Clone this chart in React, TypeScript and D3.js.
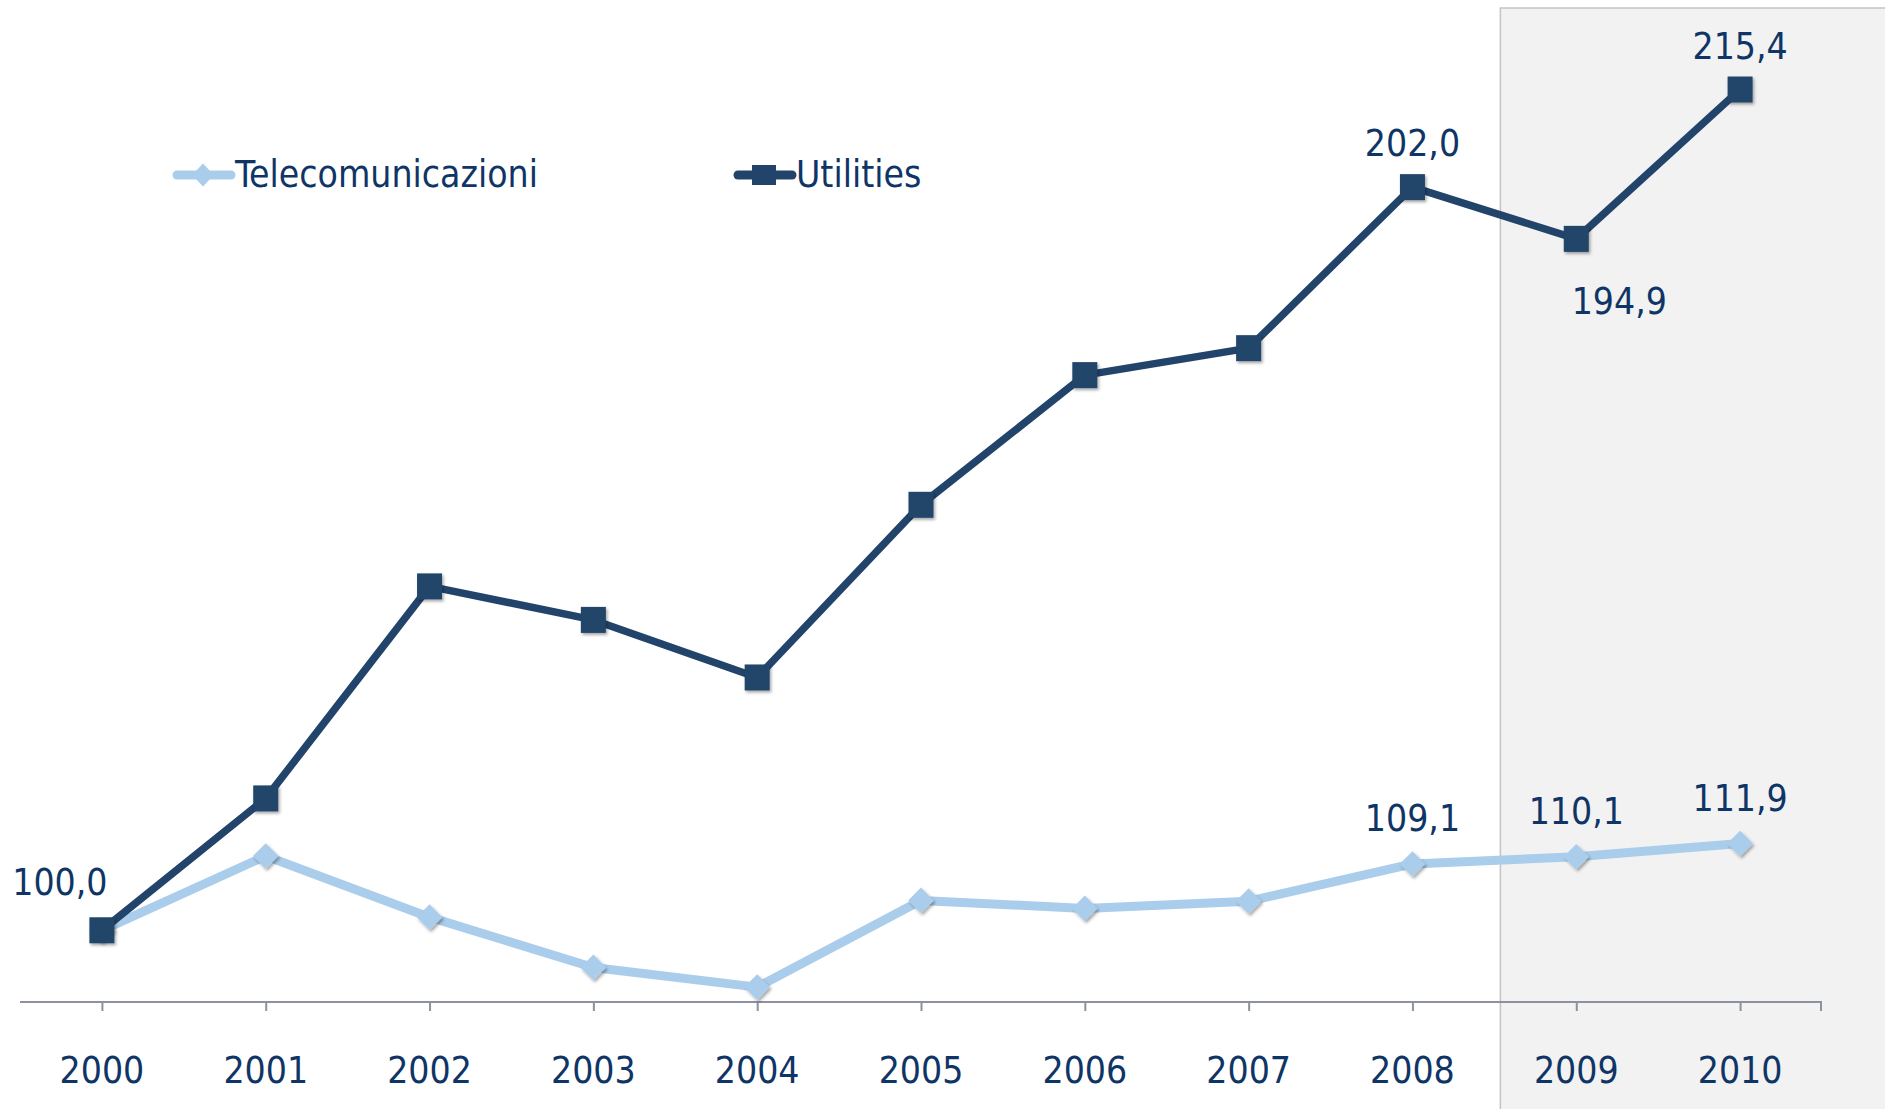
import { useRef, useEffect } from "react";
import * as d3 from "d3";

const years = ["2000", "2001", "2002", "2003", "2004", "2005", "2006", "2007", "2008", "2009", "2010"];
const telecomValues = [100.0, 110.2, 101.8, 94.9, 92.2, 104.1, 103.0, 104.0, 109.1, 110.1, 111.9];
const utilitiesValues = [100.0, 118.1, 147.2, 142.6, 134.7, 158.4, 176.2, 179.9, 202.0, 194.9, 215.4];
const seriesNames = ["Telecomunicazioni", "Utilities"];
const forecastYears = ["2009", "2010"];
const labelledTelecom = ["2008", "2009", "2010"];
const labelledUtilities = ["2000", "2008", "2009", "2010"];

const WIDTH = 1885;
const HEIGHT = 1109;
const FONT = "'Liberation Sans Narrow', 'DejaVu Sans Condensed', 'Arial Narrow', sans-serif";
const TEXT_COLOR = "#0f3566";
const UTIL_COLOR = "#22446b";
const TELE_COLOR = "#abcdec";
const AXIS_COLOR = "#8d91a1";

const fmt = (v: number) => d3.format(".1f")(v).replace(".", ",");

const App = () => {
  const svgRef = useRef<SVGSVGElement>(null);

  useEffect(() => {
    const svg = d3.select(svgRef.current);
    svg.selectAll("*").remove();

    const defs = svg.append("defs");
    defs
      .append("filter")
      .attr("id", "shadow")
      .attr("x", "-50%")
      .attr("y", "-50%")
      .attr("width", "200%")
      .attr("height", "200%")
      .append("feDropShadow")
      .attr("dx", 1.5)
      .attr("dy", 2)
      .attr("stdDeviation", 1.5)
      .attr("flood-color", "#000")
      .attr("flood-opacity", 0.35);

    const xScale = d3.scaleBand().domain(years).range([20, 1822]).padding(0);
    const cx = (y: string) => (xScale(y) as number) + xScale.bandwidth() / 2;
    const yScale = d3.scaleLinear().domain([80, 220]).range([1076, 56]);
    const axisY = 1002;

    // shaded forecast area
    const shadeX = cx(forecastYears[0]) - xScale.bandwidth() / 2 + 6;
    svg
      .append("rect")
      .attr("x", shadeX)
      .attr("y", 8)
      .attr("width", WIDTH - shadeX + 10)
      .attr("height", HEIGHT)
      .attr("fill", "#f2f2f2")
      .attr("stroke", "#c4c4c4")
      .attr("stroke-width", 1.5);

    // x axis
    const xAxis = svg
      .append("g")
      .attr("transform", `translate(0,${axisY})`)
      .call(
        d3
          .axisBottom(d3.scalePoint().domain(years).range([cx(years[0]), cx(years[years.length - 1])]))
          .tickSize(9)
          .tickSizeOuter(0)
          .tickFormat(() => "")
      );
    xAxis.select(".domain").remove();
    xAxis.selectAll("line").attr("stroke", AXIS_COLOR).attr("stroke-width", 2);

    svg
      .append("line")
      .attr("x1", 20)
      .attr("x2", 1822)
      .attr("y1", axisY)
      .attr("y2", axisY)
      .attr("stroke", AXIS_COLOR)
      .attr("stroke-width", 2);
    svg
      .append("line")
      .attr("x1", 1821)
      .attr("x2", 1821)
      .attr("y1", axisY)
      .attr("y2", axisY + 9)
      .attr("stroke", AXIS_COLOR)
      .attr("stroke-width", 2);

    svg
      .append("g")
      .selectAll("text")
      .data(years)
      .enter()
      .append("text")
      .attr("x", (d) => cx(d))
      .attr("y", 1083)
      .attr("text-anchor", "middle")
      .style("font-family", FONT)
      .style("font-size", "37px")
      .style("fill", TEXT_COLOR)
      .text((d) => d);

    const line = d3
      .line<number>()
      .x((d, i) => cx(years[i]))
      .y((d) => yScale(d));

    // telecom series
    svg
      .append("path")
      .datum(telecomValues)
      .attr("fill", "none")
      .attr("stroke", TELE_COLOR)
      .attr("stroke-width", 9)
      .attr("stroke-linejoin", "round")
      .attr("d", line);

    svg
      .append("g")
      .selectAll("path")
      .data(telecomValues)
      .enter()
      .append("path")
      .attr("d", d3.symbol().type(d3.symbolDiamond2).size(380)())
      .attr("transform", (d, i) => `translate(${cx(years[i])},${yScale(d)}) scale(1.05,1.05)`)
      .attr("fill", TELE_COLOR)
      .attr("filter", "url(#shadow)");

    // utilities series
    svg
      .append("path")
      .datum(utilitiesValues)
      .attr("fill", "none")
      .attr("stroke", UTIL_COLOR)
      .attr("stroke-width", 7.5)
      .attr("stroke-linejoin", "round")
      .attr("d", line);

    svg
      .append("g")
      .selectAll("rect")
      .data(utilitiesValues)
      .enter()
      .append("rect")
      .attr("x", (d, i) => cx(years[i]) - 12.5)
      .attr("y", (d) => yScale(d) - 13)
      .attr("width", 25)
      .attr("height", 26)
      .attr("fill", UTIL_COLOR)
      .attr("filter", "url(#shadow)");

    // data labels
    const labelStyle = (sel: any) =>
      sel
        .attr("text-anchor", "middle")
        .style("font-family", FONT)
        .style("font-size", "37px")
        .style("fill", TEXT_COLOR);

    labelledTelecom.forEach((yr) => {
      const i = years.indexOf(yr);
      svg
        .append("text")
        .call(labelStyle)
        .attr("x", cx(yr))
        .attr("y", yScale(telecomValues[i]) - 33)
        .text(fmt(telecomValues[i]));
    });

    labelledUtilities.forEach((yr) => {
      const i = years.indexOf(yr);
      const v = utilitiesValues[i];
      let dx = 0;
      let dy = -31;
      if (i === 0) {
        dx = -42;
        dy = -35;
      } else if (i > 0 && v < utilitiesValues[i - 1] && v < utilitiesValues[i + 1]) {
        dx = 43;
        dy = 75;
      }
      svg
        .append("text")
        .call(labelStyle)
        .attr("x", cx(yr) + dx)
        .attr("y", yScale(v) + dy)
        .text(fmt(v));
    });

    // legend
    const legendItems = [
      { name: seriesNames[0], color: TELE_COLOR, x0: 173, kind: "diamond" },
      { name: seriesNames[1], color: UTIL_COLOR, x0: 734, kind: "square" },
    ];
    const legendY = 175;
    legendItems.forEach((item) => {
      const g = svg.append("g");
      g.append("line")
        .attr("x1", item.x0 + 4)
        .attr("x2", item.x0 + 58)
        .attr("y1", legendY)
        .attr("y2", legendY)
        .attr("stroke", item.color)
        .attr("stroke-width", 9)
        .attr("stroke-linecap", "round");
      if (item.kind === "diamond") {
        g.append("path")
          .attr("d", d3.symbol().type(d3.symbolDiamond2).size(300)())
          .attr("transform", `translate(${item.x0 + 30},${legendY}) scale(1,1.05)`)
          .attr("fill", item.color);
      } else {
        g.append("rect")
          .attr("x", item.x0 + 18)
          .attr("y", legendY - 10)
          .attr("width", 24)
          .attr("height", 20)
          .attr("fill", item.color);
      }
      g.append("text")
        .attr("x", item.x0 + 62)
        .attr("y", legendY + 12)
        .style("font-family", FONT)
        .style("font-size", "37px")
        .style("fill", TEXT_COLOR)
        .text(item.name);
    });
  }, []);

  return (
    <svg
      ref={svgRef}
      width={WIDTH}
      height={HEIGHT}
      style={{ position: "absolute", left: 0, top: 0, background: "#fff" }}
    ></svg>
  );
};

export default App;
